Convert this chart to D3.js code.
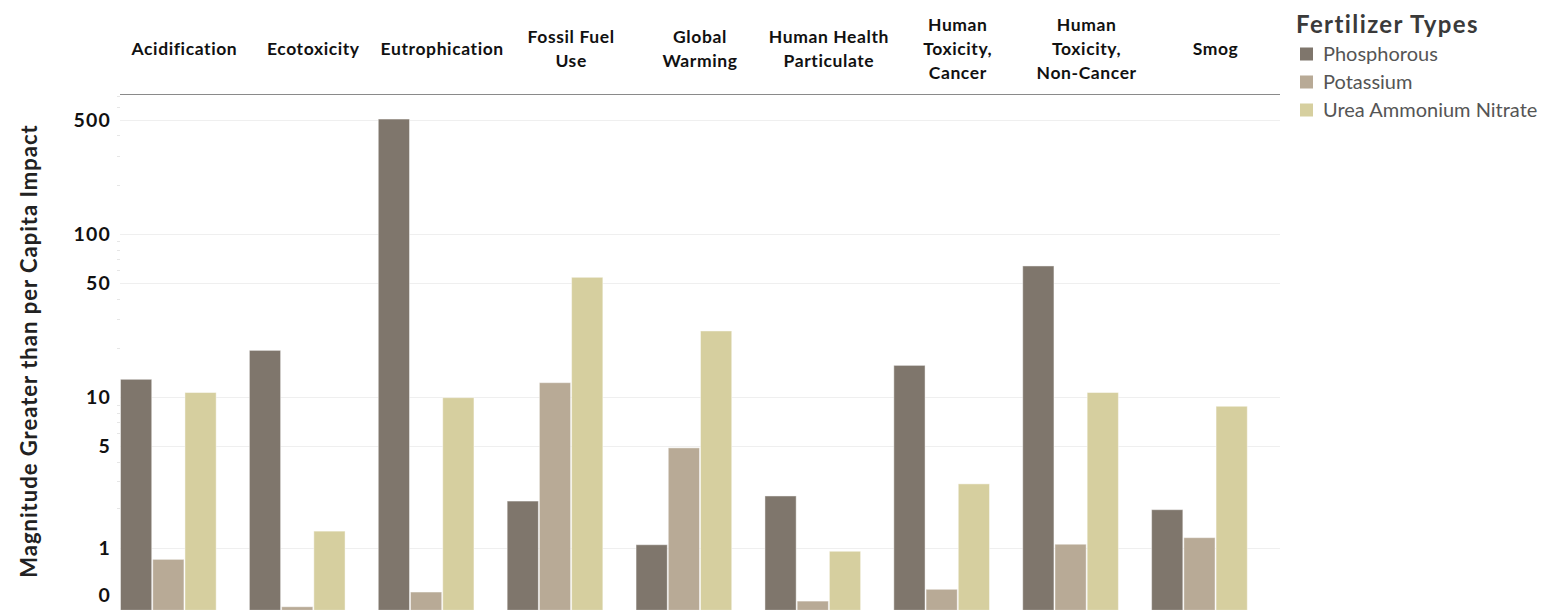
<!DOCTYPE html>
<html>
<head>
<meta charset="utf-8">
<script src="https://cdn.jsdelivr.net/npm/d3@7/dist/d3.min.js"></script>
<style>
  html, body { margin: 0; padding: 0; background: #fff; }
  svg { display: block; font-family: Lato, "Open Sans", sans-serif; }
</style>
</head>
<body>
<svg id="chart" width="1545" height="610"></svg>
<script>
// Impact categories (column headers) and how each header wraps
const categories = [
  "Acidification", "Ecotoxicity", "Eutrophication", "Fossil Fuel Use",
  "Global Warming", "Human Health Particulate", "Human Toxicity, Cancer",
  "Human Toxicity, Non-Cancer", "Smog"
];
const headerLines = [
  ["Acidification"], ["Ecotoxicity"], ["Eutrophication"], ["Fossil Fuel", "Use"],
  ["Global", "Warming"], ["Human Health", "Particulate"], ["Human", "Toxicity,", "Cancer"],
  ["Human", "Toxicity,", "Non-Cancer"], ["Smog"]
];

// Fertilizer types and their colours
const seriesNames = ["Phosphorous", "Potassium", "Urea Ammonium Nitrate"];
const seriesColors = ["#7f766c", "#b8aa96", "#d6cf9f"];

// Magnitude greater than per-capita impact, one value per category
const phosphorous = [12.9, 19.4, 504, 2.22, 1.06, 2.40, 15.7, 63.7, 1.94];
const potassium   = [0.78, 0.05, 0.26, 12.3, 4.87, 0.13, 0.30, 1.07, 1.21];
const urea        = [10.7, 1.36, 9.95, 54.3, 25.5, 0.93, 2.88, 10.7, 8.81];
const seriesValues = [phosphorous, potassium, urea];

// Axis ticks
const tickValues = [0, 1, 5, 10, 50, 100, 500];
const tickLabels = ["0", "1", "5", "10", "50", "100", "500"];
const minorTicks = [2,3,4,6,7,8,9,20,30,40,60,70,80,90,200,300,400,600,700];
const axisMax = 707;
const axisTitle = "Magnitude Greater than per Capita Impact";
const legendTitle = "Fertilizer Types";

const svg = d3.select("#chart");
const plot = { left: 120, right: 1280, top: 95, bottom: 610.3 };

// Column per category; each column holds four slots, three used by the bars
const x = d3.scaleBand().domain(categories).range([plot.left, plot.right]).paddingInner(0).paddingOuter(0);
const xs = d3.scaleBand().domain(seriesNames).range([0, x.bandwidth() * 0.75]).padding(0);

// Symmetric-log style axis: linear scale over asinh of the values
const yLin = d3.scaleLinear().domain([0, Math.asinh(axisMax)]).range([plot.bottom, plot.top]);
const y = v => yLin(Math.asinh(v));

// Gridlines
svg.append("g").selectAll("line")
  .data(tickValues.filter(v => v > 0))
  .join("line")
  .attr("x1", plot.left).attr("x2", plot.right)
  .attr("y1", d => Math.round(y(d)) + 0.5).attr("y2", d => Math.round(y(d)) + 0.5)
  .attr("stroke", "#efefef").attr("stroke-width", 1);

// Minor ticks along the value axis
svg.append("g").selectAll("line")
  .data(minorTicks)
  .join("line")
  .attr("x1", plot.left - 3).attr("x2", plot.left)
  .attr("y1", d => Math.round(y(d)) + 0.5).attr("y2", d => Math.round(y(d)) + 0.5)
  .attr("stroke", "#e6e6e6").attr("stroke-width", 1);

// Bars
const rows = [];
categories.forEach((c, ci) => {
  seriesNames.forEach((s, si) => rows.push({ cat: c, series: s, si, value: seriesValues[si][ci] }));
});
svg.append("g").selectAll("rect")
  .data(rows)
  .join("rect")
  .attr("x", d => x(d.cat) + xs(d.series) + 0.5)
  .attr("width", xs.bandwidth() - 1)
  .attr("y", d => y(d.value))
  .attr("height", d => y(0) - y(d.value))
  .attr("fill", d => seriesColors[d.si])
  .attr("stroke", "rgba(255,255,255,0.45)")
  .attr("stroke-width", 1);

// Value axis labels
const yAxis = d3.axisLeft(yLin)
  .tickValues(tickValues.map(Math.asinh))
  .tickFormat((d, i) => tickLabels[i])
  .tickSize(0)
  .tickPadding(9);
const gy = svg.append("g").attr("transform", `translate(${plot.left},0)`).call(yAxis);
gy.select(".domain").remove();
gy.selectAll("text")
  .attr("font-family", "Lato, sans-serif")
  .attr("font-size", 19.5).attr("font-weight", 700).attr("fill", "#111")
  .attr("letter-spacing", 1.2)
  .attr("dy", (d, i) => tickValues[i] === 0 ? "-0.45em" : "0.34em");

// Value axis title
svg.append("text")
  .attr("transform", `translate(37,351) rotate(-90)`)
  .attr("text-anchor", "middle")
  .attr("font-size", 22).attr("font-weight", 700).attr("fill", "#222")
  .attr("letter-spacing", 1.0)
  .text(axisTitle);

// Column headers
const header = svg.append("g");
categories.forEach((c, ci) => {
  const lines = headerLines[ci];
  const cx = x(c) + x.bandwidth() / 2;
  const lh = 24;
  const y0 = 49 - (lines.length - 1) * lh / 2;
  const t = header.append("text")
    .attr("text-anchor", "middle")
    .attr("font-size", 17.5).attr("font-weight", 700).attr("fill", "#111")
    .attr("letter-spacing", 0.6);
  lines.forEach((ln, li) => {
    t.append("tspan").attr("x", cx).attr("y", y0 + li * lh).attr("dy", "0.35em").text(ln);
  });
});
svg.append("line")
  .attr("x1", plot.left).attr("x2", plot.right)
  .attr("y1", 94.5).attr("y2", 94.5)
  .attr("stroke", "#8a8a8a").attr("stroke-width", 1);

// Legend
const legend = svg.append("g").attr("transform", "translate(1296,0)");
legend.append("text")
  .attr("x", 0).attr("y", 25).attr("dy", "0.35em")
  .attr("font-size", 24).attr("font-weight", 700).attr("fill", "#3a3a3a")
  .attr("letter-spacing", 1.4)
  .text(legendTitle);
const items = legend.selectAll("g.item")
  .data(seriesNames)
  .join("g")
  .attr("transform", (d, i) => `translate(0,${54 + i * 28})`);
items.append("rect")
  .attr("x", 4).attr("y", -6.5).attr("width", 13).attr("height", 13)
  .attr("fill", (d, i) => seriesColors[i]);
items.append("text")
  .attr("x", 27).attr("y", 0).attr("dy", "0.35em")
  .attr("font-size", 20).attr("fill", "#555")
  .text(d => d);
</script>
</body>
</html>
